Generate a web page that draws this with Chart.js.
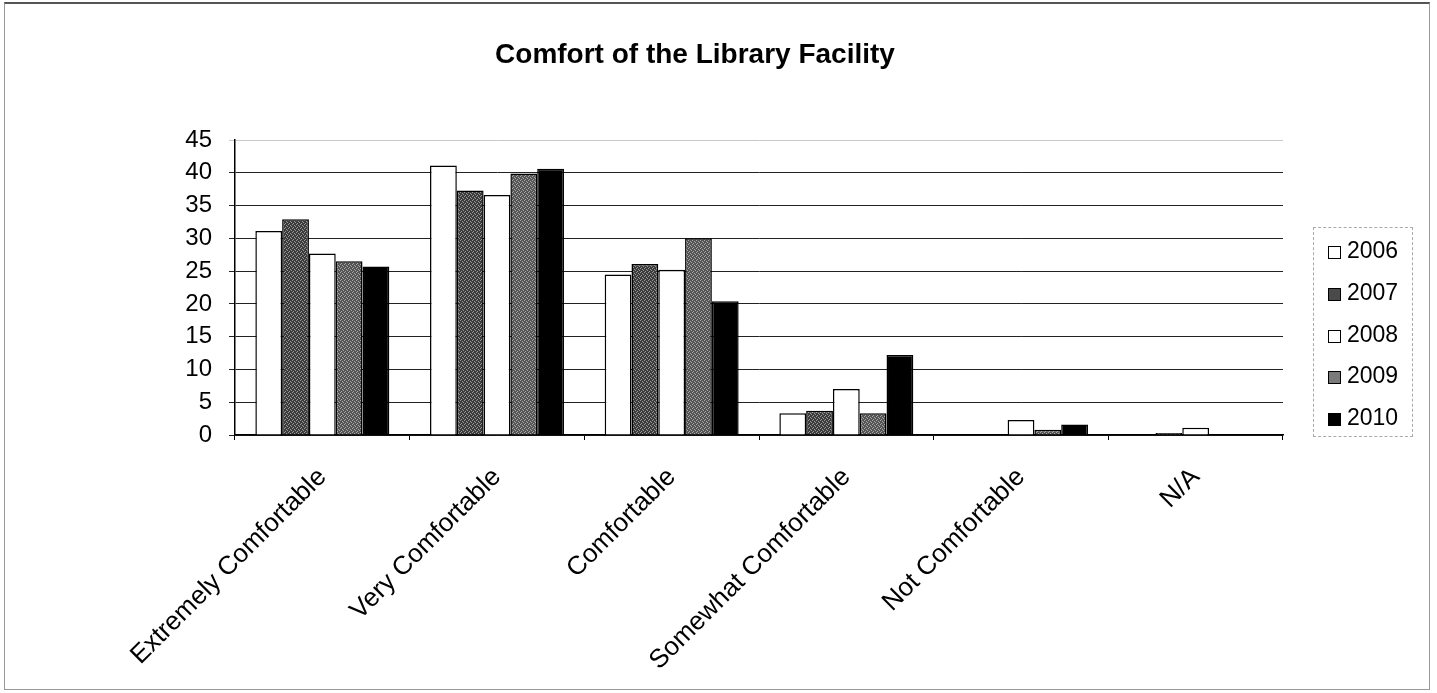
<!DOCTYPE html>
<html>
<head>
<meta charset="utf-8">
<script src="https://cdn.jsdelivr.net/npm/chart.js@4/dist/chart.umd.min.js"></script>
<style>
    html, body { margin: 0; padding: 0; background: #fff; }
    #wrap { position: relative; width: 1437px; height: 693px; }
    #frame { position: absolute; left: 4px; top: 2px; width: 1426px; height: 688px; border: 1px solid #999; border-top: 2px solid #555; box-sizing: border-box; }
    #title { position: absolute; left: 395px; width: 600px; top: 38px; line-height: 28px; text-align: center;
             font: bold 28px "Liberation Sans", Arial, sans-serif; color: #000; }
    #legend { position: absolute; left: 1313px; top: 227px; width: 100px; height: 210px;
              border: 1px dashed #aaa; box-sizing: border-box; }
    .item { position: absolute; left: 14px; height: 26px; line-height: 26px;
            font: 23px "Liberation Sans", Arial, sans-serif; color: #000; }
    .swatch { display: inline-block; width: 13px; height: 13px; border: 1.5px solid #000;
              box-sizing: border-box; margin-right: 6px; vertical-align: -1px; }
    canvas { position: absolute; left: 0; top: 0; }
</style>
</head>
<body>
<div id="wrap">
    <div id="frame"></div>
    <canvas id="chart" width="1437" height="693"></canvas>
    <div id="title">Comfort of the Library Facility</div>
    <div id="legend"></div>
</div>
<script>
// categories and series
const categories = ["Extremely Comfortable", "Very Comfortable", "Comfortable",
                    "Somewhat Comfortable", "Not Comfortable", "N/A"];
const years = ["2006", "2007", "2008", "2009", "2010"];
const v2006 = [31.1, 41.1, 24.5, 3.3, 0, 0];
const v2007 = [32.9, 37.3, 26.1, 3.7, 0, 0.3];
const v2008 = [27.7, 36.6, 25.2, 7.0, 2.3, 1.1];
const v2009 = [26.5, 39.9, 30.0, 3.3, 0.8, 0];
const v2010 = [25.7, 40.6, 20.4, 12.2, 1.6, 0];
const yTicks = [0, 5, 10, 15, 20, 25, 30, 35, 40, 45];

// speckled grey fill like the scanned print
function speckle(base, light) {
    const c = document.createElement("canvas");
    c.width = 4; c.height = 4;
    const g = c.getContext("2d");
    g.fillStyle = base;
    g.fillRect(0, 0, 4, 4);
    g.fillStyle = light;
    g.fillRect(0, 0, 1, 1);
    g.fillRect(2, 1, 1, 1);
    g.fillRect(1, 3, 1, 1);
    g.fillRect(3, 2, 1, 1);
    return g.createPattern(c, "repeat");
}

const fills = ["#ffffff", speckle("#3c3c3c", "#9a9a9a"), "#ffffff", speckle("#555555", "#a8a8a8"), "#000000"];
const swatchColors = ["#ffffff", "#4a4a4a", "#ffffff", "#7a7a7a", "#000000"];
const series = [v2006, v2007, v2008, v2009, v2010];

const datasets = years.map((y, i) => ({
    label: y,
    data: series[i],
    backgroundColor: fills[i],
    borderColor: "#000",
    borderWidth: 1.5,
    categoryPercentage: 0.767,
    barPercentage: 1
}));

const font = "'Liberation Sans', Arial, sans-serif";

new Chart(document.getElementById("chart"), {
    type: "bar",
    data: { labels: categories, datasets: datasets },
    options: {
        responsive: false,
        animation: false,
        layout: { padding: { left: 0, top: 140, right: 154, bottom: 0 } },
        plugins: { legend: { display: false }, title: { display: false }, tooltip: { enabled: false } },
        scales: {
            x: {
                afterFit: (s) => { s.height = 258; },
                border: { color: "#000", width: 1.5 },
                grid: { drawOnChartArea: false, drawTicks: true, tickLength: 5, color: "#000" },
                ticks: { color: "#000", font: { family: font, size: 26 }, minRotation: 45, maxRotation: 45, padding: 22, autoSkip: false }
            },
            y: {
                min: 0,
                max: 45,
                afterFit: (s) => { s.width = 235; },
                afterBuildTicks: (s) => { s.ticks = yTicks.map(v => ({ value: v })); },
                border: { color: "#000", width: 1.5 },
                grid: {
                    color: (ctx) => ctx.tick && ctx.tick.value === 45 ? "#c8c8c8" : "#222",
                    lineWidth: 1,
                    tickLength: 6
                },
                ticks: { color: "#000", font: { family: font, size: 24 }, padding: 17 }
            }
        }
    }
});

// legend
const legend = document.getElementById("legend");
years.forEach((y, i) => {
    const d = document.createElement("div");
    d.className = "item";
    d.style.top = (9 + i * 41.8) + "px";
    d.innerHTML = '<span class="swatch" style="background:' + swatchColors[i] + '"></span>' + y;
    legend.appendChild(d);
});
</script>
</body>
</html>
